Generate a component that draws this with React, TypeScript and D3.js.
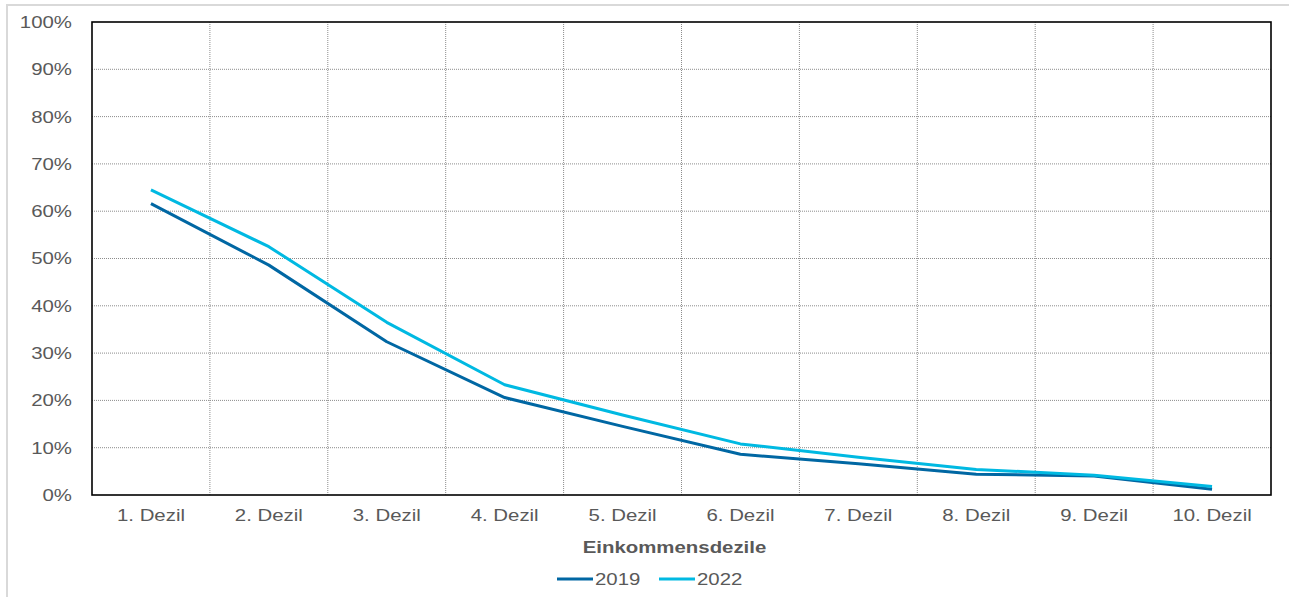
import React from "react";
import * as d3 from "d3";

const categories = ["1. Dezil", "2. Dezil", "3. Dezil", "4. Dezil", "5. Dezil", "6. Dezil", "7. Dezil", "8. Dezil", "9. Dezil", "10. Dezil"];
const values2019 = [61.6, 48.6, 32.4, 20.6, 14.5, 8.6, 6.6, 4.4, 4.0, 1.2];
const values2022 = [64.5, 52.5, 36.5, 23.3, 16.9, 10.8, 8.0, 5.4, 4.2, 1.8];
const yTicks = [0, 10, 20, 30, 40, 50, 60, 70, 80, 90, 100];
const seriesNames = ["2019", "2022"];
const seriesColors = ["#0067a3", "#00b9e2"];
const xTitle = "Einkommensdezile";

const W = 1289;
const H = 597;
const plot = { left: 92, right: 1271, top: 22, bottom: 495 };
const FONT = "'Liberation Sans', Arial, sans-serif";
const STRETCH = 1.2;

type LabelProps = {
  x: number;
  y: number;
  anchor?: "start" | "middle" | "end";
  size?: number;
  bold?: boolean;
  children: React.ReactNode;
};

// Text drawn with the slightly wide letterforms used throughout the chart
function Label({ x, y, anchor = "start", size = 17, bold = false, children }: LabelProps) {
  return (
    <g transform={`translate(${x},${y}) scale(${STRETCH},1)`}>
      <text x={0} y={0} dy="0.35em" textAnchor={anchor} fontSize={size} fontWeight={bold ? "bold" : "normal"} fill="#595959">
        {children}
      </text>
    </g>
  );
}

export default function App() {
  const x = d3.scaleBand<string>().domain(categories).range([plot.left, plot.right]).padding(0);
  const y = d3.scaleLinear().domain([0, 100]).range([plot.bottom, plot.top]);
  const line = d3
    .line<number>()
    .x((_, i) => (x(categories[i]) as number) + x.bandwidth() / 2)
    .y((d) => y(d));

  const series = [values2019, values2022];
  const bounds = categories.slice(1).map((c) => x(c) as number);

  return (
    <svg
      width={W}
      height={H}
      style={{ position: "absolute", left: 0, top: 0, background: "#fff" }}
      fontFamily={FONT}
    >
      {/* outer chart frame */}
      <rect x={7} y={5} width={W} height={H} fill="none" stroke="#d9d9d9" strokeWidth={2} />

      {/* horizontal gridlines */}
      {yTicks.slice(1, -1).map((t) => (
        <line key={"h" + t} x1={plot.left} x2={plot.right} y1={y(t)} y2={y(t)} stroke="#8c8c8c" strokeWidth={1} strokeDasharray="1,1" />
      ))}
      {/* vertical gridlines between deciles */}
      {bounds.map((bx, i) => (
        <line key={"v" + i} x1={bx} x2={bx} y1={plot.top} y2={plot.bottom} stroke="#8c8c8c" strokeWidth={1} strokeDasharray="1,1" />
      ))}

      {/* plot frame */}
      <rect
        x={plot.left}
        y={plot.top}
        width={plot.right - plot.left}
        height={plot.bottom - plot.top}
        fill="none"
        stroke="#000"
        strokeWidth={1.6}
      />

      {/* y tick labels */}
      {yTicks.map((t) => (
        <Label key={"y" + t} x={72} y={y(t)} anchor="end">
          {t + "%"}
        </Label>
      ))}

      {/* x tick labels */}
      {categories.map((c) => (
        <Label key={c} x={(x(c) as number) + x.bandwidth() / 2} y={515} anchor="middle">
          {c}
        </Label>
      ))}

      {/* x axis title */}
      <Label x={(plot.left + plot.right) / 2 - 7} y={547} anchor="middle" bold>
        {xTitle}
      </Label>

      {/* series lines */}
      {series.map((vals, i) => (
        <path key={seriesNames[i]} d={line(vals) || ""} fill="none" stroke={seriesColors[i]} strokeWidth={3} strokeLinejoin="round" />
      ))}

      {/* legend */}
      {seriesNames.map((name, i) => {
        const lx = 557 + i * 102;
        return (
          <g key={"lg" + name}>
            <line x1={lx} x2={lx + 36} y1={579} y2={579} stroke={seriesColors[i]} strokeWidth={3} />
            <Label x={lx + 38} y={579}>
              {name}
            </Label>
          </g>
        );
      })}
    </svg>
  );
}
